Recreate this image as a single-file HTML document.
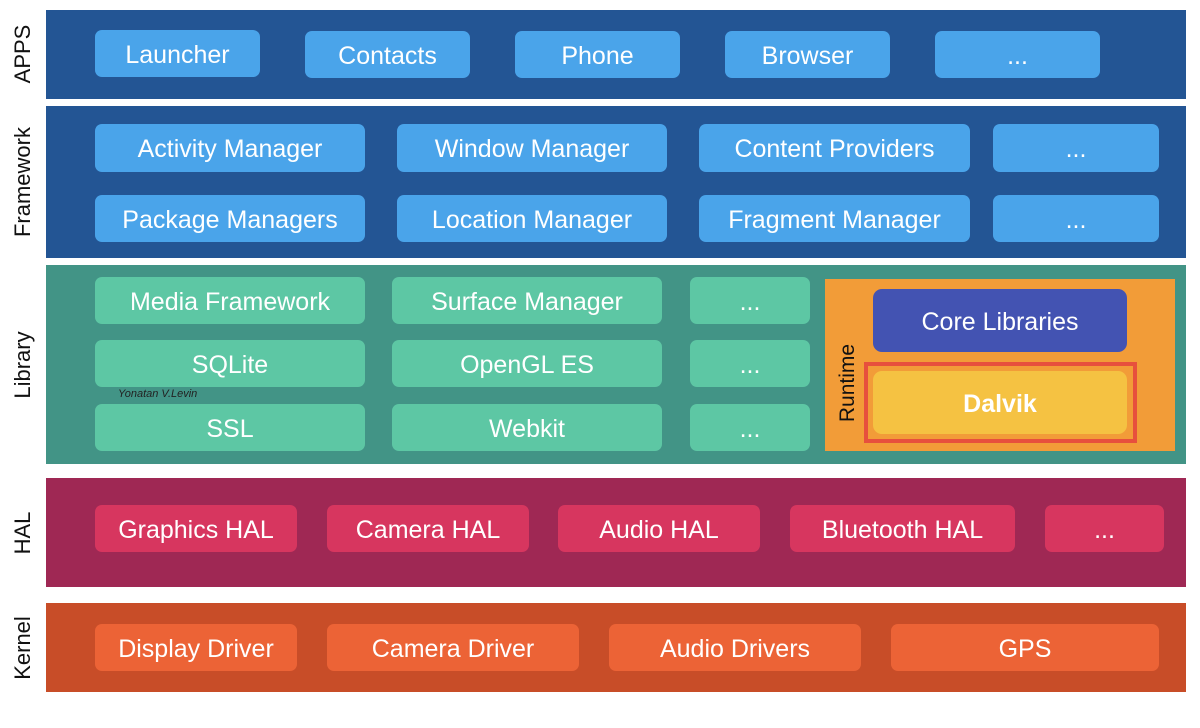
<!DOCTYPE html>
<html><head><meta charset="utf-8"><style>
body{margin:0;width:1200px;height:700px;background:#fff;position:relative;overflow:hidden;font-family:"Liberation Sans",sans-serif}
div{position:absolute;box-sizing:border-box}
.b{color:#fff;font-size:25px;display:flex;align-items:center;justify-content:center;border-radius:7px;white-space:nowrap;padding-top:3px}
.a{background:#4aa4ea}.l{background:#5dc7a4}.h{background:#d7365f}.k{background:#ec6336}
.s{color:#111;font-size:22px;transform:rotate(-90deg);transform-origin:center;white-space:nowrap;text-align:center;width:160px;height:26px;line-height:26px}
</style></head><body>
<div style="left:46px;top:10px;width:1140px;height:89px;background:#235594"></div>
<div style="left:46px;top:106px;width:1140px;height:152px;background:#235594"></div>
<div style="left:46px;top:265px;width:1140px;height:199px;background:#429486"></div>
<div style="left:46px;top:478px;width:1140px;height:109px;background:#9f2854"></div>
<div style="left:46px;top:603px;width:1140px;height:89px;background:#c84d28"></div>

<div class="s" style="left:-57px;top:41px">APPS</div>
<div class="s" style="left:-57px;top:169px">Framework</div>
<div class="s" style="left:-57px;top:352px">Library</div>
<div class="s" style="left:-57px;top:520px">HAL</div>
<div class="s" style="left:-57px;top:635px">Kernel</div>

<div class="b a" style="left:95px;top:30px;width:165px;height:47px">Launcher</div>
<div class="b a" style="left:305px;top:31px;width:165px;height:47px">Contacts</div>
<div class="b a" style="left:515px;top:31px;width:165px;height:47px">Phone</div>
<div class="b a" style="left:725px;top:31px;width:165px;height:47px">Browser</div>
<div class="b a" style="left:935px;top:31px;width:165px;height:47px">...</div>

<div class="b a" style="left:95px;top:124px;width:270px;height:48px">Activity Manager</div>
<div class="b a" style="left:397px;top:124px;width:270px;height:48px">Window Manager</div>
<div class="b a" style="left:699px;top:124px;width:271px;height:48px">Content Providers</div>
<div class="b a" style="left:993px;top:124px;width:166px;height:48px">...</div>
<div class="b a" style="left:95px;top:195px;width:270px;height:47px">Package Managers</div>
<div class="b a" style="left:397px;top:195px;width:270px;height:47px">Location Manager</div>
<div class="b a" style="left:699px;top:195px;width:271px;height:47px">Fragment Manager</div>
<div class="b a" style="left:993px;top:195px;width:166px;height:47px">...</div>

<div class="b l" style="left:95px;top:277px;width:270px;height:47px">Media Framework</div>
<div class="b l" style="left:392px;top:277px;width:270px;height:47px">Surface Manager</div>
<div class="b l" style="left:690px;top:277px;width:120px;height:47px">...</div>
<div class="b l" style="left:95px;top:340px;width:270px;height:47px">SQLite</div>
<div class="b l" style="left:392px;top:340px;width:270px;height:47px">OpenGL ES</div>
<div class="b l" style="left:690px;top:340px;width:120px;height:47px">...</div>
<div class="b l" style="left:95px;top:404px;width:270px;height:47px">SSL</div>
<div class="b l" style="left:392px;top:404px;width:270px;height:47px">Webkit</div>
<div class="b l" style="left:690px;top:404px;width:120px;height:47px">...</div>
<div style="left:118px;top:388px;font-size:11px;font-style:italic;color:#222">Yonatan V.Levin</div>

<div style="left:825px;top:279px;width:350px;height:172px;background:#f29c38"></div>
<div class="s" style="left:768px;top:370px;width:160px;font-size:21px">Runtime</div>
<div class="b" style="left:873px;top:289px;width:254px;height:63px;background:#4353b2;border-radius:9px">Core Libraries</div>
<div style="left:864px;top:362px;width:273px;height:81px;border:4px solid #e7503d"></div>
<div class="b" style="left:873px;top:371px;width:254px;height:63px;background:#f5c242;border-radius:9px;font-weight:bold">Dalvik</div>

<div class="b h" style="left:95px;top:505px;width:202px;height:47px">Graphics HAL</div>
<div class="b h" style="left:327px;top:505px;width:202px;height:47px">Camera HAL</div>
<div class="b h" style="left:558px;top:505px;width:202px;height:47px">Audio HAL</div>
<div class="b h" style="left:790px;top:505px;width:225px;height:47px">Bluetooth HAL</div>
<div class="b h" style="left:1045px;top:505px;width:119px;height:47px">...</div>

<div class="b k" style="left:95px;top:624px;width:202px;height:47px">Display Driver</div>
<div class="b k" style="left:327px;top:624px;width:252px;height:47px">Camera Driver</div>
<div class="b k" style="left:609px;top:624px;width:252px;height:47px">Audio Drivers</div>
<div class="b k" style="left:891px;top:624px;width:268px;height:47px">GPS</div>
</body></html>
